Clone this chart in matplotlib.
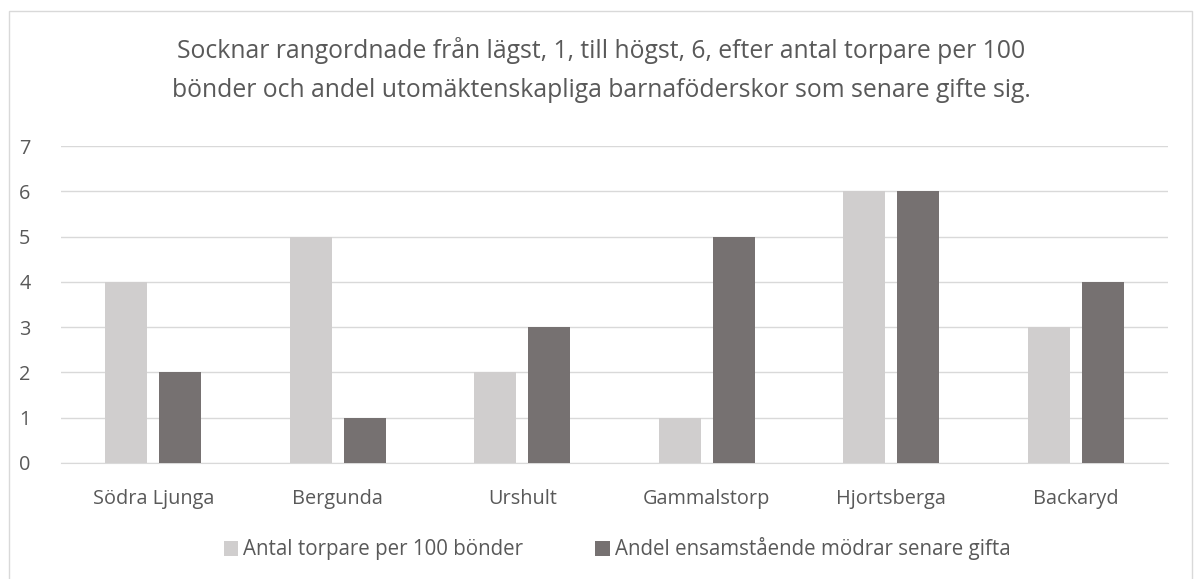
import matplotlib.pyplot as plt
import numpy as np
from matplotlib.patches import Rectangle

plt.rcParams['font.family'] = ['Open Sans', 'DejaVu Sans']

socknar = ["Södra Ljunga", "Bergunda", "Urshult", "Gammalstorp", "Hjortsberga", "Backaryd"]
torpare = [4, 5, 2, 1, 6, 3]
modrar = [2, 1, 3, 5, 6, 4]
namn1 = "Antal torpare per 100 bönder"
namn2 = "Andel ensamstående mödrar senare gifta"
titel = ("Socknar rangordnade från lägst, 1, till högst, 6, efter antal torpare per 100\n"
         "bönder och andel utomäktenskapliga barnaföderskor som senare gifte sig.")

grey_text = "#595959"

fig = plt.figure(figsize=(12.02, 5.79), dpi=100)
# ram runt hela diagrammet
fig.patches.append(Rectangle((9 / 1202, -0.1), (1192 - 9) / 1202, 1.1 - 11 / 579,
                             transform=fig.transFigure, fill=False,
                             edgecolor="#d9d9d9", linewidth=1))
ax = fig.add_axes([61 / 1202, 1 - 463 / 579, (1168 - 61) / 1202, (463 - 146) / 579])

x = np.arange(len(socknar))
w = 0.228
ax.bar(x - 0.147, torpare, w, color="#d0cece", label=namn1, zorder=3)
ax.bar(x + 0.147, modrar, w, color="#767171", label=namn2, zorder=3)

ax.set_xlim(-0.5, len(socknar) - 0.5)
ax.set_ylim(0, 7)
ax.set_yticks(range(8))
ax.yaxis.grid(True, color="#d9d9d9", linewidth=1, zorder=0)
ax.set_xticks(x)
ax.set_xticklabels(socknar)
ax.tick_params(length=0, labelsize=14.3, colors=grey_text)
ax.tick_params(axis="x", pad=19)
ax.tick_params(axis="y", pad=22)
for s in ["top", "right", "left"]:
    ax.spines[s].set_visible(False)
ax.spines["bottom"].set_color("#d9d9d9")

fig.text(0.5, 1 - 70 / 579, titel, ha="center", va="center", fontsize=17.8,
         color=grey_text, linespacing=1.75)

fig.legend(loc="center", bbox_to_anchor=(617 / 1202, 1 - 549 / 579), ncol=2, frameon=False,
           fontsize=14.8, labelcolor=grey_text, handlelength=0.7, handleheight=0.7,
           handletextpad=0.25, columnspacing=3.5)

fig.savefig("out.png", dpi=100)
